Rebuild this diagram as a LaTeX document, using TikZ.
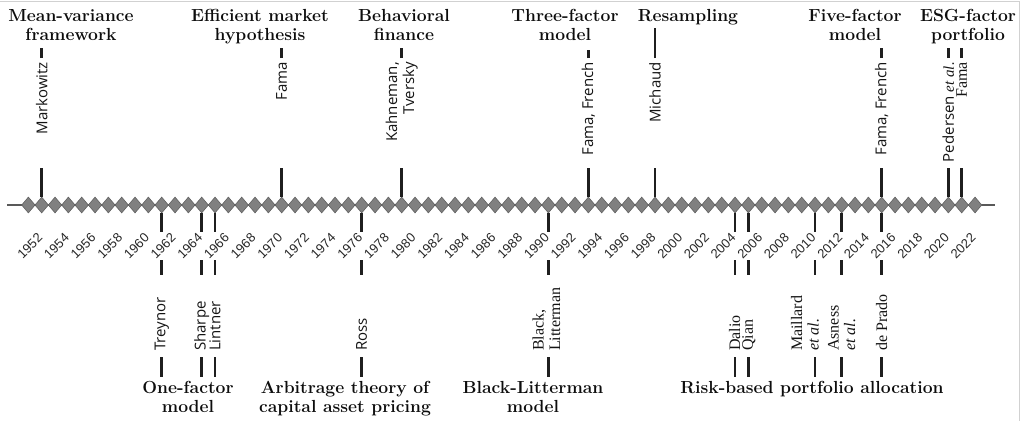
\documentclass[tikz,border=0pt]{standalone}
\usepackage{fontspec}
\newfontfamily\osans{Open Sans}
\newfontfamily\lsans{Liberation Sans}
\newfontfamily\lserif{Liberation Serif}
\usetikzlibrary{shapes.geometric}
\newcommand\TopEv[5]{% id, year, style, text, top of upper segment
  \coordinate (#1lo) at ({xof(#2)},168);
  \coordinate (#1up) at ({xof(#2)},58);
  \coordinate (#1tp) at ({xof(#2)},#5);
  \node[toplab,#3] (#1) at ({xof(#2)},62) {#4};
  \draw[evline] (d#2.north) -- (#1lo);
  \draw[evline] (#1up) -- (#1tp);
}
\newcommand\BotEv[5]{% id, year, style, text, dx of label
  \coordinate (#1a) at ({xof(#2)},232);
  \coordinate (#1b) at ({xof(#2)},260);
  \coordinate (#1c) at ({xof(#2)},275);
  \coordinate (#1d) at ({xof(#2)},357);
  \coordinate (#1e) at ({xof(#2)},377);
  \node[botlab,#3] (#1) at ({xof(#2)+#5},351) {#4};
  \draw[evline] (d#2.south) -- (#1a);
  \draw[evline] (#1b) -- (#1c);
  \draw[evline] (#1d) -- (#1e);
}
\begin{document}
\begin{tikzpicture}[x=1pt,y=-1pt,
  declare function={xof(\t)=41.7+13.3333*(\t-1952);},
  dia/.style={diamond, draw=black!62, fill=black!50, line width=0.6pt,
    minimum width=13.6pt, minimum height=16pt, inner sep=0pt},
  yearlab/.style={font=\lsans\fontsize{13}{13}\selectfont, text=black!85,
    rotate=45, anchor=east, inner sep=0pt},
  evline/.style={line width=2.6pt, draw=black!88},
  title/.style={font=\fontsize{17.5}{19}\selectfont\bfseries, align=center,
    anchor=north, inner sep=0pt, text=black!95},
  toplab/.style={rotate=90, anchor=east, inner sep=0pt, align=right, text=black!92},
  botlab/.style={rotate=90, anchor=west, inner sep=0pt, align=left, text=black!92},
  sansf/.style={font=\osans\fontsize{15}{17}\selectfont},
  seriff/.style={font=\lserif\fontsize{16}{16.5}\selectfont},
]
\useasboundingbox (0,0) rectangle (1024,421);
\draw[black!18, line width=0.8pt] (0,1) -- (1019,1) -- (1019,421);

% axis
\coordinate (axL) at (7,205);
\coordinate (axR) at (995,205);
\draw[black!65, line width=1.2pt] (axL) -- (axR);
\foreach \t in {1951,...,2022}{
  \node[dia] (d\t) at ({xof(\t)},205) {};
}
\foreach \t in {1952,1954,...,2022}{
  \node[yearlab] (y\t) at ({xof(\t)-1.5},235.5) {\t};
}

% titles top
\node[title] (tMV) at (71,9) {Mean-variance\\framework};
\node[title] (tEM) at (260,9) {Efficient market\\hypothesis};
\node[title] (tBF) at (404,9) {Behavioral\\finance};
\node[title] (tTF) at (565,9) {Three-factor\\model};
\node[title] (tRS) at (688,9) {Resampling};
\node[title] (tFF) at (855,9) {Five-factor\\model};
\node[title] (tESG) at (968,9) {ESG-factor\\portfolio};

% titles bottom
\node[title] (tOF) at (188,381) {One-factor\\model};
\node[title] (tAPT) at (345,381) {Arbitrage theory of\\capital asset pricing};
\node[title] (tBL) at (533,381) {Black-Litterman\\model};
\node[title] (tRB) at (812,381) {Risk-based portfolio allocation};

% top events
\TopEv{eMark}{1952}{sansf}{Markowitz}{48}
\TopEv{eFama}{1970}{sansf}{Fama}{48}
\TopEv{eKT}{1979}{sansf}{Kahneman,\\Tversky}{48}
\TopEv{eFF}{1993}{sansf}{Fama, French}{50}
\TopEv{eMich}{1998}{sansf}{Michaud}{28}
\TopEv{eFFb}{2015}{sansf}{Fama, French}{48}
\TopEv{ePed}{2020}{sansf}{Pedersen {\lserif\itshape et al.}}{48}
\TopEv{eFama2}{2021}{seriff}{Fama}{48}

% bottom events
\BotEv{eTrey}{1961}{sansf}{Treynor}{0}
\BotEv{eSharpe}{1964}{sansf}{Sharpe}{0}
\BotEv{eLint}{1965}{sansf}{Lintner}{0}
\BotEv{eRoss}{1976}{sansf}{Ross}{0}
\BotEv{eBL}{1990}{seriff}{Black,\\Litterman}{-2}
\BotEv{eDal}{2004}{seriff}{Dalio}{-0.5}
\BotEv{eQian}{2005}{seriff}{Qian}{0.5}
\BotEv{eMail}{2010}{seriff}{Maillard\\\itshape et al.}{-10}
\BotEv{eAsn}{2012}{seriff}{Asness\\\itshape et al.}{0}
\BotEv{ePrado}{2015}{seriff}{de Prado}{0}
\end{tikzpicture}
\end{document}
